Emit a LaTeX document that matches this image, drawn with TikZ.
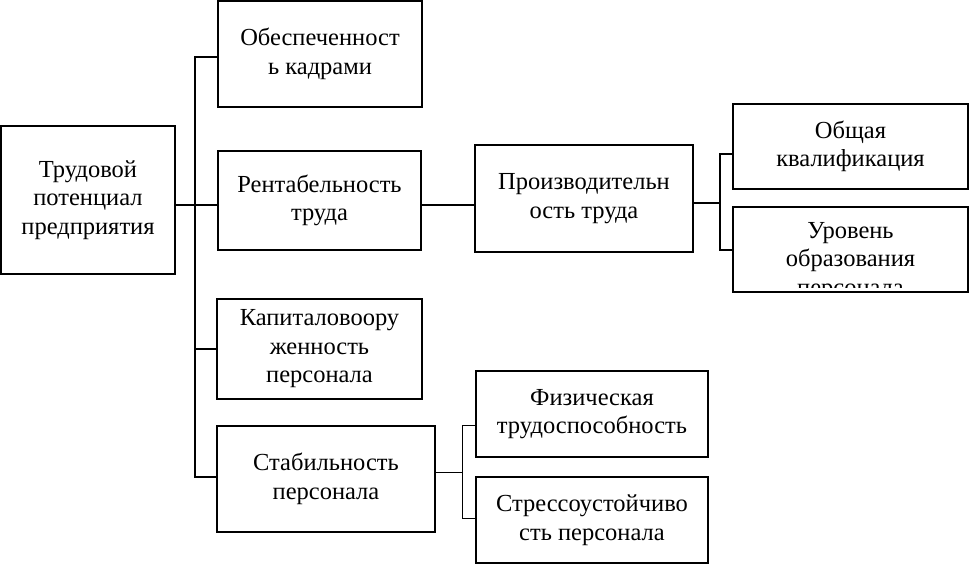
\documentclass[tikz,border=0pt]{standalone}
\usepackage{fontspec}
\setmainfont{Liberation Serif}
\usetikzlibrary{calc}
\begin{document}
\begin{tikzpicture}[x=1pt,y=-1pt,
  txt/.style={font=\fontsize{24.5}{28.5}\selectfont},
  box/.style={txt, draw=black, line width=2pt, fill=white, align=center, inner sep=0pt},
  conn/.style={draw=black, line width=1.6pt},
  thin/.style={draw=black, line width=1pt}]
\useasboundingbox (0,0) rectangle (969,565);

\node[box, minimum width=174pt, minimum height=148pt] (main) at (88,200) {Трудовой\\потенциал\\предприятия};
\node[box, minimum width=204pt, minimum height=106pt] (b1) at (320,54) {Обеспеченност\\ь кадрами};
\node[box, minimum width=203pt, minimum height=99pt] (b2) at (319.5,200.5) {Рентабельность\\труда};
\node[box, minimum width=218pt, minimum height=107pt] (b3) at (584,198.5) {Производительн\\ость труда};
\node[box, minimum width=235pt, minimum height=85pt] (b4) at (850.5,146.5) {Общая\\квалификация};
\node[box, minimum width=235pt, minimum height=85pt] (b5) at (850.5,249.5) {};
\begin{scope}
  \clip ($(b5.north west)+(2,2)$) rectangle ($(b5.south east)+(-2,-6)$);
  \node[txt, anchor=north, align=center, inner sep=0pt] (b5t)
    at ($(b5.north)+(0,16)$) {Уровень\\образования\\персонала};
\end{scope}
\node[box, minimum width=205pt, minimum height=100pt] (b6) at (319.5,349) {Капиталовоору\\женность\\персонала};
\node[box, minimum width=218pt, minimum height=106pt] (b7) at (326,479) {Стабильность\\персонала};
\node[box, minimum width=232pt, minimum height=86pt] (b8) at (592,414) {Физическая\\трудоспособность};
\node[box, minimum width=232pt, minimum height=86pt] (b9) at (592,520) {Стрессоустойчиво\\сть персонала};

\coordinate (jt) at (195,57);
\coordinate (jm) at (195,205);
\coordinate (jc) at (195,349);
\coordinate (jb) at (195,477);
\draw[conn] (b1.west |- jt) -- (jt) -- (jb) -- (b7.west |- jb);
\draw[conn] (main.east |- jm) -- (b2.west |- jm);
\draw[conn] (jc) -- (b6.west |- jc);
\draw[conn] (b2.east |- jm) -- (b3.west |- jm);

\coordinate (kb) at (720,203);
\coordinate (k1) at (720,154);
\coordinate (k2) at (720,250);
\draw[conn] (b3.east |- kb) -- (kb);
\draw[conn] (b4.west |- k1) -- (k1) -- (k2) -- (b5.west |- k2);

\coordinate (mb) at (462,472);
\coordinate (m1) at (462,425);
\coordinate (m2) at (462,518);
\draw[thin] (b7.east |- mb) -- (mb);
\draw[thin] (b8.west |- m1) -- (m1) -- (m2) -- (b9.west |- m2);
\end{tikzpicture}
\end{document}
